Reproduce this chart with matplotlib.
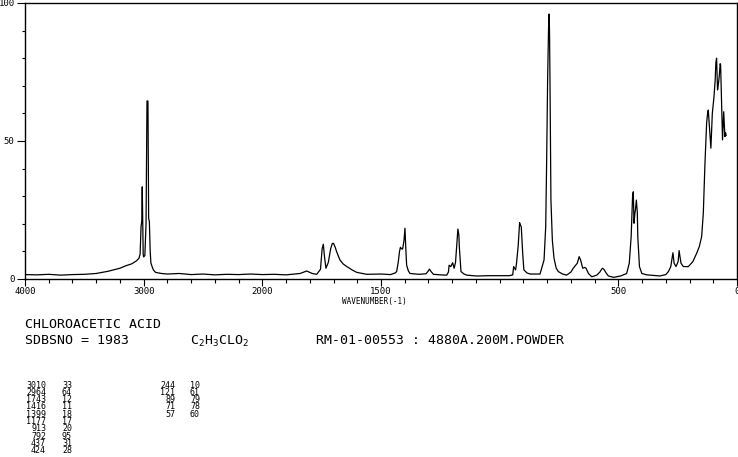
import numpy as np
import matplotlib
matplotlib.use('Agg')
import matplotlib.pyplot as plt

# Raman spectrum (wavenumber in cm-1, intensity)
wavenumber = [4000, 3900, 3800, 3700, 3600, 3500, 3400, 3300, 3200, 3150,
              3100, 3060, 3040, 3030, 3022, 3016, 3012, 3008, 3004, 3000,
              2990, 2980, 2972, 2964, 2958, 2952, 2945, 2939, 2925, 2918,
              2900, 2850, 2800, 2700, 2600, 2500, 2400, 2300, 2200, 2100,
              2000, 1950, 1900, 1841, 1813, 1790, 1771, 1755, 1748, 1743,
              1738, 1732, 1722, 1712, 1705, 1700, 1693, 1687, 1673, 1660,
              1644, 1620, 1602, 1560, 1500, 1460, 1440, 1434, 1427, 1422,
              1418, 1414, 1409, 1403, 1399, 1396, 1392, 1385, 1378, 1340,
              1310, 1300, 1296, 1290, 1279, 1250, 1223, 1216, 1213, 1206,
              1198, 1192, 1186, 1181, 1176, 1172, 1170, 1163, 1150, 1139,
              1100, 1083, 1050, 1000, 960, 945, 941, 933, 929, 922,
              916, 913, 909, 903, 898, 885, 872, 850, 830, 813,
              806, 802, 798, 794, 792, 790, 788, 784, 778, 771,
              762, 753, 735, 718, 700, 690, 673, 665, 662, 659,
              650, 642, 636, 626, 612, 591, 578, 570, 566, 560,
              550, 542, 520, 490, 465, 454, 446, 440, 437, 434,
              430, 428, 424, 420, 418, 411, 401, 380, 367, 345,
              325, 300, 289, 279, 273, 270, 265, 257, 248, 244,
              240, 236, 226, 205, 186, 170, 159, 149, 142, 135,
              128, 124, 121, 117, 114, 110, 104, 97, 92, 89,
              86, 82, 78, 75, 71, 69, 65, 61, 58, 56,
              53, 51, 48, 46]
intensity = [1.6, 1.5, 1.7, 1.4, 1.6, 1.7, 2.0, 2.8, 3.9, 4.8,
             5.5, 6.6, 7.5, 9.0, 19, 21, 33.4, 20, 9, 8,
             8.5, 20, 64.5, 64.5, 22, 20.8, 10, 5.8, 4, 3.3,
             2.4, 2.0, 1.8, 2.0, 1.6, 1.8, 1.5, 1.7, 1.6, 1.8,
             1.6, 1.7, 1.5, 2.0, 2.9, 2.0, 1.7, 3.5, 11, 12.6,
             8, 3.9, 6, 11, 12.9, 12.9, 11.5, 9.9, 6.9, 5.5,
             4.5, 3.2, 2.4, 1.7, 1.8, 1.6, 2.2, 2.7, 6.3, 10,
             11.5, 11.0, 10.8, 14, 18.4, 12, 5, 3, 2, 1.7,
             1.9, 3.0, 3.6, 2.8, 1.7, 1.5, 1.4, 2.5, 5, 4.5,
             5.9, 3.9, 6, 12.3, 18.1, 16, 11.7, 2.7, 1.8, 1.4,
             1.1, 1.1, 1.2, 1.2, 1.2, 1.5, 4.5, 3.3, 5.7, 12,
             20.4, 19.5, 19, 9.3, 3.3, 2.2, 1.8, 1.8, 1.8, 6.9,
             19, 43, 72, 91, 96, 90, 72, 28.6, 14, 7.5,
             4, 2.7, 1.8, 1.4, 2.5, 3.9, 5.7, 8.1, 7.5, 6.9,
             3.9, 4.2, 3.9, 2.0, 0.8, 1.4, 2.5, 3.6, 3.9, 3.4,
             2.0, 1.1, 0.6, 1.1, 2.0, 5.7, 15.3, 30, 31.6, 20.2,
             24, 25, 28.6, 24, 15.3, 4.5, 2.0, 1.5, 1.4, 1.2,
             1.1, 1.6, 2.7, 4.5, 8, 9.5, 5.7, 4.5, 6.3, 10.3,
             8, 5.7, 4.5, 4.5, 6.3, 9.3, 11.7, 15.3, 23.8, 41.9,
             56.4, 60, 61.2, 56, 51.6, 47.4, 60, 66, 72, 78.5,
             80, 68.5, 71, 73.3, 78, 77.5, 63.7, 50.4, 57, 60.6,
             55, 51.6, 53, 52]

# peak table printed under the chart
peaks_a = ['3010', '2964', '1743', '1416', '1399', '1177', '913', '792', '437', '424']
inten_a = ['33', '64', '12', '11', '18', '17', '20', '95', '31', '28']
peaks_b = ['244', '121', '89', '71', '57']
inten_b = ['10', '61', '79', '78', '60']

x_major = [4000, 3000, 2000, 1500, 500, 0]
x_minor = [3800, 3600, 3400, 3200, 2800, 2600, 2400, 2200,
           1900, 1800, 1700, 1600, 1400, 1300, 1200, 1100, 1000,
           900, 800, 700, 600, 400, 300, 200, 100]

MONO = 'DejaVu Sans Mono'
plt.rcParams['font.family'] = MONO
plt.rcParams['mathtext.fontset'] = 'custom'
plt.rcParams['mathtext.rm'] = MONO


# above 2000 cm-1 the axis is compressed by half
def fwd(x):
    x = np.asarray(x, dtype=float)
    return np.where(x > 2000, (x + 2000) / 2.0, x)


def inv(u):
    u = np.asarray(u, dtype=float)
    return np.where(u > 2000, 2 * u - 2000, u)


W, H = 738, 457
fig = plt.figure(figsize=(W / 100, H / 100), dpi=100, facecolor='white')
ax = fig.add_axes([25 / W, 1 - 279 / H, 712 / W, 276 / H])

ax.plot(wavenumber, intensity, color='black', lw=0.9)

ax.set_xscale('function', functions=(fwd, inv))
ax.set_xlim(4000, 0)
ax.set_ylim(0, 100)

ax.set_xticks(x_major)
ax.set_xticklabels([str(v) for v in x_major])
ax.set_xticks(x_minor, minor=True)
ax.set_yticks([0, 50, 100])
ax.set_yticks(np.arange(0, 101, 10), minor=True)

ax.tick_params(axis='x', which='major', direction='out', length=5, width=0.8,
               pad=1, labelsize=6.5)
ax.tick_params(axis='x', which='minor', direction='out', length=3, width=0.8)
ax.tick_params(axis='y', which='major', direction='out', length=6, width=0.8,
               pad=1.5, labelsize=6.5)
ax.tick_params(axis='y', which='minor', direction='out', length=2.5, width=0.8)

for s in ax.spines.values():
    s.set_linewidth(1)
    s.set_color('black')

ax.set_xlabel('WAVENUMBER(-1)', fontsize=5.5)
ax.xaxis.set_label_coords((374 - 25) / 712, -0.066)


def ftext(px, py, s, size, ha='left'):
    fig.text(px / W, 1 - py / H, s, fontsize=size, ha=ha, va='center')


ftext(25, 324, 'CHLOROACETIC ACID', 9.5)
ftext(25, 340, 'SDBSNO = 1983', 9.5)
ftext(190, 341, r'$\mathrm{C_2H_3CLO_2}$', 9.5)
ftext(316, 340, 'RM-01-00553 : 4880A.200M.POWDER', 9.5)

row0, step = 385, 7.33
for i in range(len(peaks_a)):
    ftext(46, row0 + i * step, peaks_a[i], 6, ha='right')
    ftext(62, row0 + i * step, inten_a[i], 6)
for i in range(len(peaks_b)):
    ftext(175, row0 + i * step, peaks_b[i], 6, ha='right')
    ftext(190, row0 + i * step, inten_b[i], 6)

fig.savefig('out.png', dpi=100)
